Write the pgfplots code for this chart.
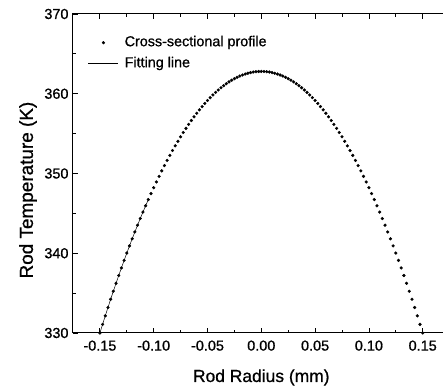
\documentclass[border=0pt]{standalone}
\usepackage{pgfplots}
\pgfplotsset{compat=1.18}
\usepackage{pgfplotstable}
\usepackage{fontspec}
\setmainfont{Liberation Sans}[FakeBold=0.8]

\pgfplotstableread{
x T
-0.1500 330.00
-0.1475 331.08
-0.1450 332.15
-0.1425 333.20
-0.1400 334.23
-0.1375 335.24
-0.1350 336.23
-0.1325 337.21
-0.1300 338.16
-0.1275 339.10
-0.1250 340.02
-0.1225 340.92
-0.1200 341.81
-0.1175 342.67
-0.1150 343.52
-0.1125 344.35
-0.1100 345.16
-0.1075 345.95
-0.1050 346.73
-0.1025 347.48
-0.1000 348.22
-0.0975 348.94
-0.0950 349.64
-0.0925 350.33
-0.0900 350.99
-0.0875 351.64
-0.0850 352.27
-0.0825 352.88
-0.0800 353.47
-0.0775 354.04
-0.0750 354.60
-0.0725 355.14
-0.0700 355.66
-0.0675 356.16
-0.0650 356.64
-0.0625 357.11
-0.0600 357.55
-0.0575 357.98
-0.0550 358.39
-0.0525 358.78
-0.0500 359.16
-0.0475 359.51
-0.0450 359.85
-0.0425 360.17
-0.0400 360.47
-0.0375 360.75
-0.0350 361.01
-0.0325 361.26
-0.0300 361.49
-0.0275 361.70
-0.0250 361.89
-0.0225 362.06
-0.0200 362.22
-0.0175 362.35
-0.0150 362.47
-0.0125 362.57
-0.0100 362.65
-0.0075 362.72
-0.0050 362.76
-0.0025 362.79
0.0000 362.80
0.0025 362.79
0.0050 362.76
0.0075 362.72
0.0100 362.65
0.0125 362.57
0.0150 362.47
0.0175 362.35
0.0200 362.22
0.0225 362.06
0.0250 361.89
0.0275 361.70
0.0300 361.49
0.0325 361.26
0.0350 361.01
0.0375 360.75
0.0400 360.47
0.0425 360.17
0.0450 359.85
0.0475 359.51
0.0500 359.16
0.0525 358.78
0.0550 358.39
0.0575 357.98
0.0600 357.55
0.0625 357.11
0.0650 356.64
0.0675 356.16
0.0700 355.66
0.0725 355.14
0.0750 354.60
0.0775 354.04
0.0800 353.47
0.0825 352.88
0.0850 352.27
0.0875 351.64
0.0900 350.99
0.0925 350.33
0.0950 349.64
0.0975 348.94
0.1000 348.22
0.1025 347.48
0.1050 346.73
0.1075 345.95
0.1100 345.16
0.1125 344.35
0.1150 343.52
0.1175 342.67
0.1200 341.81
0.1225 340.92
0.1250 340.02
0.1275 339.10
0.1300 338.16
0.1325 337.21
0.1350 336.23
0.1375 335.24
0.1400 334.23
0.1425 333.20
0.1450 332.15
0.1475 331.08
0.1500 330.00
}\profile

\begin{document}
\begin{tikzpicture}
\begin{axis}[
  scale only axis,
  width=376.6bp, height=319bp,
  xmin=-0.175, xmax=0.175,
  ymin=330, ymax=370,
  xtick={-0.15,-0.10,-0.05,0,0.05,0.10,0.15},
  ytick={330,340,350,360,370},
  minor x tick num=1,
  minor y tick num=1,
  tick align=inside,
  major tick length=5bp,
  minor tick length=3bp,
  axis line style={line width=1bp},
  every tick/.style={line width=0.8bp, black},
  xticklabel style={/pgf/number format/fixed, /pgf/number format/fixed zerofill, /pgf/number format/precision=2, yshift=-4bp},
  yticklabel style={/pgf/number format/fixed, xshift=-1bp},
  /pgf/number format/assume math mode=true,
  ticklabel style={font=\fontsize{14.5}{16}\selectfont},
  xlabel={Rod Radius (mm)},
  ylabel={Rod Temperature (K)},
  every axis x label/.style={at={(axis description cs:0.5,0)}, anchor=base, yshift=-49bp, font=\fontsize{17.5}{20}\selectfont},
  every axis y label/.style={at={(axis description cs:-0.1195,0.448)}, rotate=90, anchor=center, font=\fontsize{19}{22}\selectfont},
  legend image code/.code={\draw[mark repeat=2,mark phase=2,#1] plot coordinates {(0bp,0bp) (15bp,0bp) (30bp,0bp)};},
  legend style={draw=none, fill=none, at={(axis description cs:0,1)}, anchor=north west, xshift=15bp, yshift=-21bp,
    font=\fontsize{14.4}{16}\selectfont, inner sep=0pt, row sep=6bp,
    nodes={inner sep=1bp, text height=10bp, text depth=3bp},
    /tikz/every odd column/.append style={column sep=5bp}},
  legend cell align=left,
]
\addplot[only marks, mark=*, mark size=1.4bp, black] table[x=x, y=T] {\profile};
\addlegendentry{Cross-sectional profile}
\addplot[black, line width=0.5bp, restrict x to domain=-0.15:-0.104] table[x=x, y=T] {\profile};
\addlegendentry{Fitting line}
\end{axis}
\pgfresetboundingbox
\path ([shift={(-73bp,-59bp)}]current axis.south west) rectangle ([shift={(370bp,14bp)}]current axis.north west);
\end{tikzpicture}
\end{document}
